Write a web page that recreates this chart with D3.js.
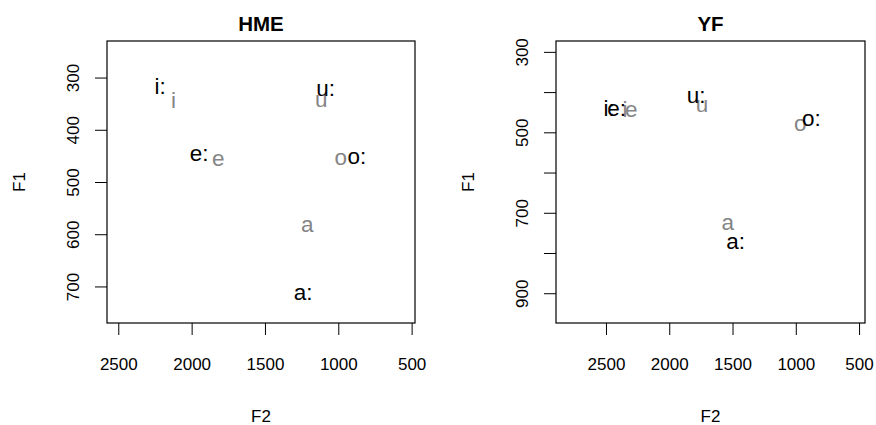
<!DOCTYPE html>
<html>
<head>
<meta charset="utf-8">
<script src="https://cdn.jsdelivr.net/npm/d3@7"></script>
<style>
	body { margin: 0; background: #fff; }
	svg { display: block; font-family: "Liberation Sans", Arial, Helvetica, sans-serif; }
</style>
</head>
<body>
<svg id="chart" width="876" height="425"></svg>
<script>
'use strict' ;

// vowel order for every series below
const vowels = [ "i", "e", "a", "o", "u" ] ;

// HME: long vowels (black, "x:") and short vowels (grey)
const hmeLongF2 = [ 2215, 1948, 1239, 874, 1087 ] ;
const hmeLongF1 = [ 322, 451, 716, 456, 325 ] ;
const hmeShortF2 = [ 2124, 1819, 1212, 983, 1116 ] ;
const hmeShortF1 = [ 349, 460, 587, 458, 346 ] ;

// YF
const yfLongF2 = [ 2476, 2415, 1476, 876, 1787 ] ;
const yfLongF1 = [ 446, 446, 778, 472, 414 ] ;
const yfShortF2 = [ 2350, 2300, 1537, 965, 1741 ] ;
const yfShortF1 = [ 449, 450, 730, 484, 438 ] ;

// axes
const f2Ticks = [ 2500, 2000, 1500, 1000, 500 ] ;
const hmeF1Ticks = [ 300, 400, 500, 600, 700 ] ;
const yfF1Ticks = [ 300, 400, 500, 600, 700, 800, 900 ] ;
const yfF1Labels = [ 300, 500, 700, 900 ] ;

const panels = [
	{
		title: "HME",
		box: { left: 107, right: 415, top: 41, bottom: 323 },
		xDomain: [ 2577, 477 ],
		yDomain: [ 230, 770 ],
		yTicks: hmeF1Ticks,
		yLabels: hmeF1Ticks,
		long: { f2: hmeLongF2, f1: hmeLongF1 },
		short: { f2: hmeShortF2, f1: hmeShortF1 }
	},
	{
		title: "YF",
		box: { left: 556, right: 865, top: 41, bottom: 323 },
		xDomain: [ 2895, 453 ],
		yDomain: [ 273, 974 ],
		yTicks: yfF1Ticks,
		yLabels: yfF1Labels,
		long: { f2: yfLongF2, f1: yfLongF1 },
		short: { f2: yfShortF2, f1: yfShortF1 }
	}
] ;

const fs = { base: 17, title: 20.5, point: 22.5 } ;
const grey = "#858585" ;

let svg = d3.select( "#chart" ) ;

let drawPanel = function( p ) {
	let b = p.box ;
	let x = d3.scaleLinear().domain( p.xDomain ).range( [ b.left, b.right ] ) ;
	let y = d3.scaleLinear().domain( p.yDomain ).range( [ b.top, b.bottom ] ) ;
	let g = svg.append( "g" ) ;
	let cx = ( b.left + b.right ) / 2 ;
	let cy = ( b.top + b.bottom ) / 2 ;

	// x axis
	let xa = g.append( "g" )
		.attr( "transform", "translate(0," + b.bottom + ")" )
		.call( d3.axisBottom( x ).tickValues( f2Ticks ).tickSize( 12 ).tickSizeOuter( 0 ).tickPadding( 23 )
			.tickFormat( d3.format( "d" ) ) ) ;
	xa.select( ".domain" ).remove() ;
	xa.selectAll( "line" ).attr( "stroke", "#000" ) ;
	xa.selectAll( "text" )
		.attr( "fill", "#000" )
		.attr( "font-size", fs.base )
		.attr( "font-family", null ) ;

	// y axis, labels rotated as in R
	let ya = g.append( "g" )
		.attr( "transform", "translate(" + b.left + ",0)" )
		.call( d3.axisLeft( y ).tickValues( p.yTicks ).tickSize( 12 ).tickSizeOuter( 0 )
			.tickFormat( d => p.yLabels.includes( d ) ? d : "" ) ) ;
	ya.select( ".domain" ).remove() ;
	ya.selectAll( "line" ).attr( "stroke", "#000" ) ;
	ya.selectAll( "text" )
		.attr( "x", null )
		.attr( "dy", null )
		.attr( "fill", "#000" )
		.attr( "font-size", fs.base )
		.attr( "font-family", null )
		.attr( "text-anchor", "middle" )
		.attr( "transform", "translate(-28.5,0) rotate(-90)" ) ;

	// frame
	g.append( "rect" )
		.attr( "x", b.left )
		.attr( "y", b.top )
		.attr( "width", b.right - b.left )
		.attr( "height", b.bottom - b.top )
		.attr( "fill", "none" )
		.attr( "stroke", "#000" )
		.attr( "stroke-width", 1.2 ) ;

	// titles
	g.append( "text" )
		.attr( "x", cx )
		.attr( "y", 30.7 )
		.attr( "text-anchor", "middle" )
		.attr( "font-size", fs.title )
		.attr( "font-weight", "bold" )
		.text( p.title ) ;
	g.append( "text" )
		.attr( "x", cx )
		.attr( "y", 421.5 )
		.attr( "text-anchor", "middle" )
		.attr( "font-size", fs.base )
		.text( "F2" ) ;
	g.append( "text" )
		.attr( "transform", "translate(" + ( b.left - 82 ) + "," + cy + ") rotate(-90)" )
		.attr( "text-anchor", "middle" )
		.attr( "font-size", fs.base )
		.text( "F1" ) ;

	// short vowels first (grey), long vowels on top
	let series = [
		{ d: p.short, colour: grey, suffix: "" },
		{ d: p.long, colour: "#000", suffix: ":" }
	] ;
	series.forEach( s => {
		g.append( "g" )
			.selectAll( "text" )
			.data( vowels )
			.enter()
			.append( "text" )
			.attr( "x", ( v, i ) => x( s.d.f2[i] ) )
			.attr( "y", ( v, i ) => y( s.d.f1[i] ) )
			.attr( "dy", "0.22em" )
			.attr( "text-anchor", "middle" )
			.attr( "font-size", fs.point )
			.attr( "fill", s.colour )
			.text( v => v + s.suffix ) ;
	} ) ;
} ;

panels.forEach( drawPanel ) ;
</script>
</body>
</html>
